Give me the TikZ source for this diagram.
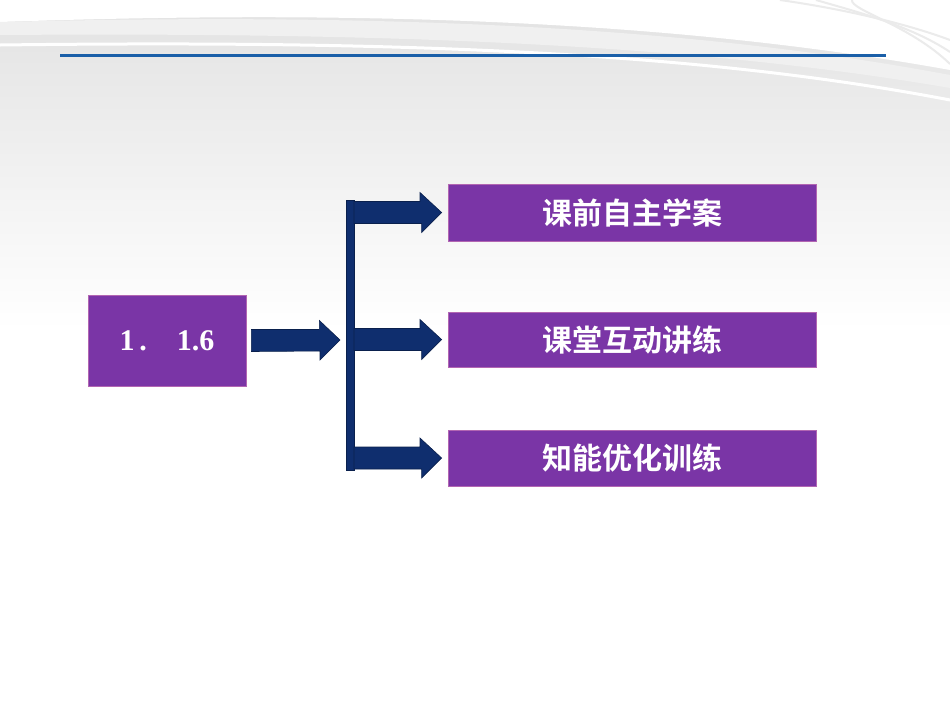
\documentclass[tikz,border=0pt]{standalone}
\usepackage{fontspec}
\setmainfont{Liberation Serif}
\newfontfamily\cjk{Noto Sans CJK SC}[BoldFont={Noto Sans CJK SC Bold}]
\usetikzlibrary{calc}
\begin{document}
\begin{tikzpicture}[x=1pt,y=-1pt,
  box/.style={draw=violet!60!white,fill=boxc,line width=0.8pt,text=white,inner sep=0pt},
  arr/.style={fill=arrc,draw=arrc!70!black,line width=0.6pt}]
\definecolor{boxc}{HTML}{7A35A6}
\definecolor{arrc}{HTML}{0F2E6E}
\definecolor{bgtop}{HTML}{E2E2E2}
\useasboundingbox (0,0) rectangle (950,713);
\shade[top color=bgtop,bottom color=white] (0,0) rectangle (950,330);
\fill[white] (0,330) rectangle (950,713);
% swooshes
\fill[white] (0,22) .. controls (400,8) and (700,25) .. (950,70) -- (950,0) -- (0,0) -- cycle;
\fill[black!6] (0,22) .. controls (400,12) and (700,28) .. (950,75) -- (950,88) .. controls (700,45) and (400,32) .. (0,35) -- cycle;
\foreach \o in {0,12,24}{
\draw[black!8,line width=2pt] (780+\o*3,0) .. controls (850,10) and (910,25) .. (950,40+\o);}
\draw[white,line width=3pt] (0,45) .. controls (400,40) and (700,52) .. (950,100);
\draw[color={rgb,255:red,26;green,95;blue,168},line width=3pt] (60,55) -- (886,55);
% boxes
\node[box,minimum width=158pt,minimum height=91pt,font=\bfseries\fontsize{30}{30}\selectfont] (src) at (167,340.5) {1\,.\quad 1.6};
\node[box,minimum width=368pt,minimum height=57pt,font=\cjk\bfseries\fontsize{30}{30}\selectfont] (b1) at (632,212.5) {课前自主学案};
\node[box,minimum width=368pt,minimum height=55pt,font=\cjk\bfseries\fontsize{30}{30}\selectfont] (b2) at (632,339.5) {课堂互动讲练};
\node[box,minimum width=368pt,minimum height=56pt,font=\cjk\bfseries\fontsize{30}{30}\selectfont] (b3) at (632,458) {知能优化训练};
% bar
\coordinate (bar) at (350,340);
\fill[arrc,draw=arrc!70!black] (346,200) rectangle (354,470);
% arrows
\path[arr] ($(src.east)+(5,-11)$) -- ++(68,0) -- ++(0,-9) -- ($(bar)+(-10,0)$) -- ++(-20,20) -- ++(0,-9) -- ($(src.east)+(5,11)$) -- cycle;
\foreach \b in {b1,b2,b3}{
\path[arr] ($(bar |- \b.west)+(4,-11)$) -- ++(66,0) -- ++(0,-9) -- ($(\b.west)+(-6,0)$) -- ++(-20,20) -- ++(0,-9) -- ($(bar |- \b.west)+(4,11)$) -- cycle;}
\end{tikzpicture}
\end{document}
